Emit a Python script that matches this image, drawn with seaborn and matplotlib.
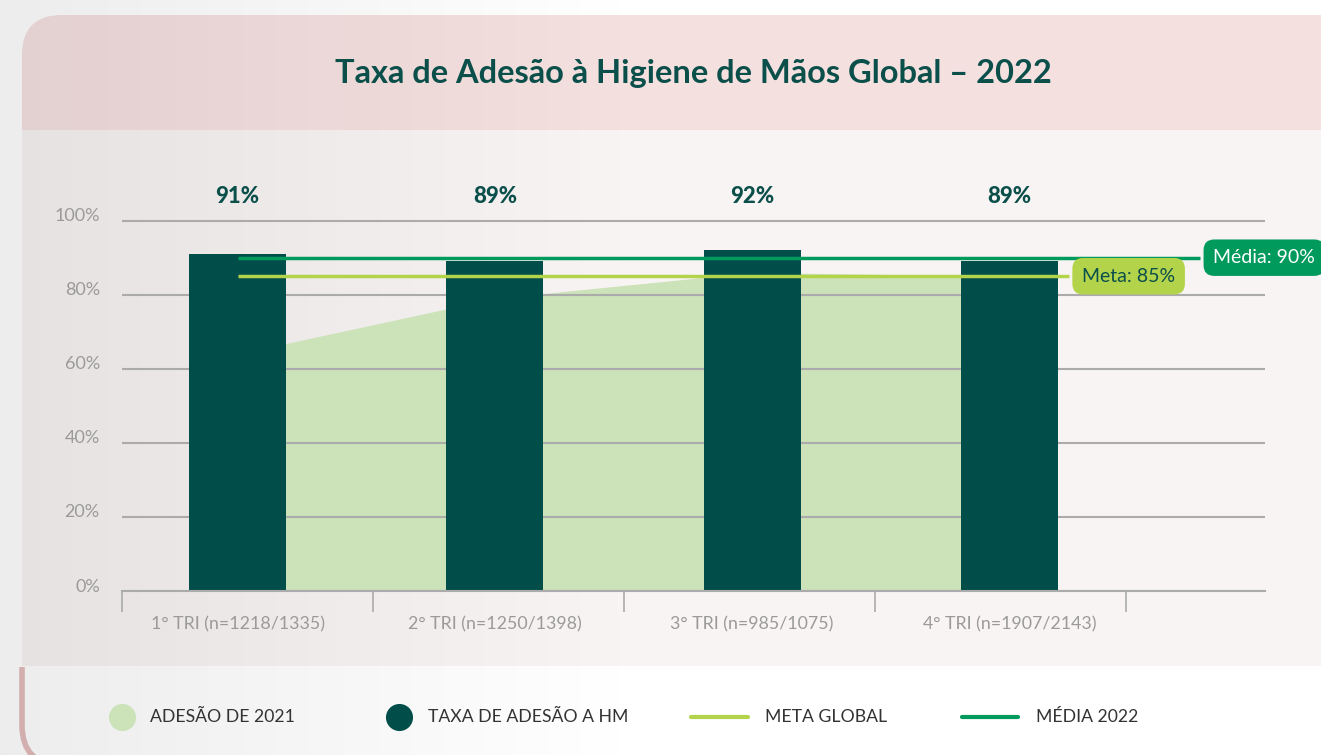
import numpy as np
import matplotlib
matplotlib.use('Agg')
import matplotlib.pyplot as plt
import matplotlib.transforms as mtransforms
from matplotlib.patches import FancyBboxPatch, Rectangle
import seaborn as sns

# dados
trimestres = ['1° TRI (n=1218/1335)', '2° TRI (n=1250/1398)',
              '3° TRI (n=985/1075)', '4° TRI (n=1907/2143)']
taxa_2022 = [91, 89, 92, 89]
adesao_2021 = [64, 79, 86, 85]
meta_global = 85
media_2022 = 90
legenda = ['ADESÃO DE 2021', 'TAXA DE ADESÃO A HM', 'META GLOBAL', 'MÉDIA 2022']

# cores
c_bar = '#014d4a'
c_area = '#cce2b9'
c_meta = '#b3d44a'
c_media = '#009a5c'
c_title = '#0b4f4a'
c_grid = '#ababab'
c_tick = '#9a9a9a'

sns.set_style('white')
plt.rcParams['font.family'] = ['Lato', 'DejaVu Sans']

W, H = 1321, 755
fig = plt.figure(figsize=(W / 100, H / 100), dpi=100)

# fundo (painel arredondado), coordenadas em pixels com y para cima
bg = fig.add_axes([0, 0, 1, 1], zorder=-10)
bg.set_xlim(0, W)
bg.set_ylim(0, H)
bg.axis('off')
panel = FancyBboxPatch((22, -10), 1400, 750, boxstyle='round,pad=0,rounding_size=40',
                       fc='white', ec='none')
bg.add_patch(panel)
borda = FancyBboxPatch((22, -10), 1400, 750, boxstyle='round,pad=0,rounding_size=40',
                       fc='none', ec='#e2bcbc', lw=4)
bg.add_patch(borda)
borda.set_clip_path(Rectangle((0, -50), W, 138, transform=bg.transData))
top_band = Rectangle((0, H - 130), W + 20, 130, fc='#f5e0e0', ec='none')
mid_band = Rectangle((0, H - 666), W + 20, 536, fc='#f9f4f4', ec='none')
for p in (top_band, mid_band):
    bg.add_patch(p)
    p.set_clip_path(panel)
grad = np.zeros((1, 400, 4))
grad[0, :, 3] = np.clip(0.075 * (1 - np.linspace(0, W, 400) / 650), 0, None)
bg.imshow(grad, extent=(0, W, 0, H), aspect='auto', zorder=5)

# eixo principal (1 categoria = 257.3 px, centro da 1a em x=237.5)
ax = fig.add_axes([122 / W, 164 / H, (1265 - 122) / W, 372.2 / H])
ax.patch.set_alpha(0)

x = np.arange(len(trimestres))
ax.fill_between(x, adesao_2021, color=c_area, lw=0, zorder=0.2)
sns.barplot(x=trimestres, y=taxa_2022, color=c_bar, saturation=1,
            width=0.377, linewidth=0, ax=ax, zorder=2)

ax.hlines(meta_global, 0, 3.23, color=c_meta, lw=2.5, zorder=3)
ax.hlines(media_2022, 0, 3.74, color=c_media, lw=2.5, zorder=3)
ax.text(3.463, meta_global, 'Meta: 85%', ha='center', va='center', fontsize=14,
        color=c_title, zorder=4,
        bbox=dict(boxstyle='round,pad=0.5,rounding_size=0.55', fc=c_meta, ec='none'))
ax.text(3.99, media_2022, 'Média: 90%', ha='center', va='center', fontsize=14,
        color='white', zorder=4, clip_on=False,
        bbox=dict(boxstyle='round,pad=0.5,rounding_size=0.55', fc=c_media, ec='none'))

for i, v in enumerate(taxa_2022):
    ax.text(i, 106.6, f'{v}%', ha='center', va='center', fontsize=16,
            fontweight='black', color=c_title, clip_on=False)

ax.set_xlim(-0.449, 3.993)
ax.set_ylim(0, 100.5)
ax.set_yticks([0, 20, 40, 60, 80, 100])
ax.set_yticklabels([f'{t}%' for t in [0, 20, 40, 60, 80, 100]])
ax.set_axisbelow(True)
ax.grid(axis='y', color=c_grid, lw=1.5)
ax.grid(axis='x', visible=False)
for s in ['top', 'right', 'left']:
    ax.spines[s].set_visible(False)
ax.spines['bottom'].set_color(c_grid)
ax.spines['bottom'].set_linewidth(1.5)

ax.set_xticks([-0.449, 0.527, 1.502, 2.478, 3.453], minor=True)
ax.tick_params(axis='x', which='major', bottom=False, pad=15, labelsize=12.8,
               labelcolor=c_tick)
ax.tick_params(axis='x', which='minor', bottom=True, length=15, width=1.2, color=c_grid)
ax.tick_params(axis='y', length=0, pad=16, labelsize=13, labelcolor=c_tick)
off = mtransforms.ScaledTranslation(0, 6 / 100, fig.dpi_scale_trans)
for lab in ax.get_yticklabels():
    lab.set_transform(lab.get_transform() + off)
ax.set_xlabel('')
ax.set_ylabel('')

fig.text(693 / W, 1 - 74 / H, 'Taxa de Adesão à Higiene de Mãos Global – 2022',
         ha='center', va='center', fontsize=23.5, fontweight='bold', color=c_title)

# legenda (desenhada no fundo, em pixels)
y_leg = H - 717
bg.plot([122], [y_leg], 'o', ms=19.5, color=c_area, mec='none', zorder=6)
bg.plot([399], [y_leg], 'o', ms=19.5, color=c_bar, mec='none', zorder=6)
bg.plot([691, 748], [y_leg, y_leg], color=c_meta, lw=3, zorder=6)
bg.plot([962, 1018], [y_leg, y_leg], color=c_media, lw=3, zorder=6)
for xt, txt in zip([150, 428, 765, 1036], legenda):
    bg.text(xt, y_leg, txt, ha='left', va='center', fontsize=12.7,
            color='#333333', zorder=6)

fig.savefig('out.png', dpi=100)
